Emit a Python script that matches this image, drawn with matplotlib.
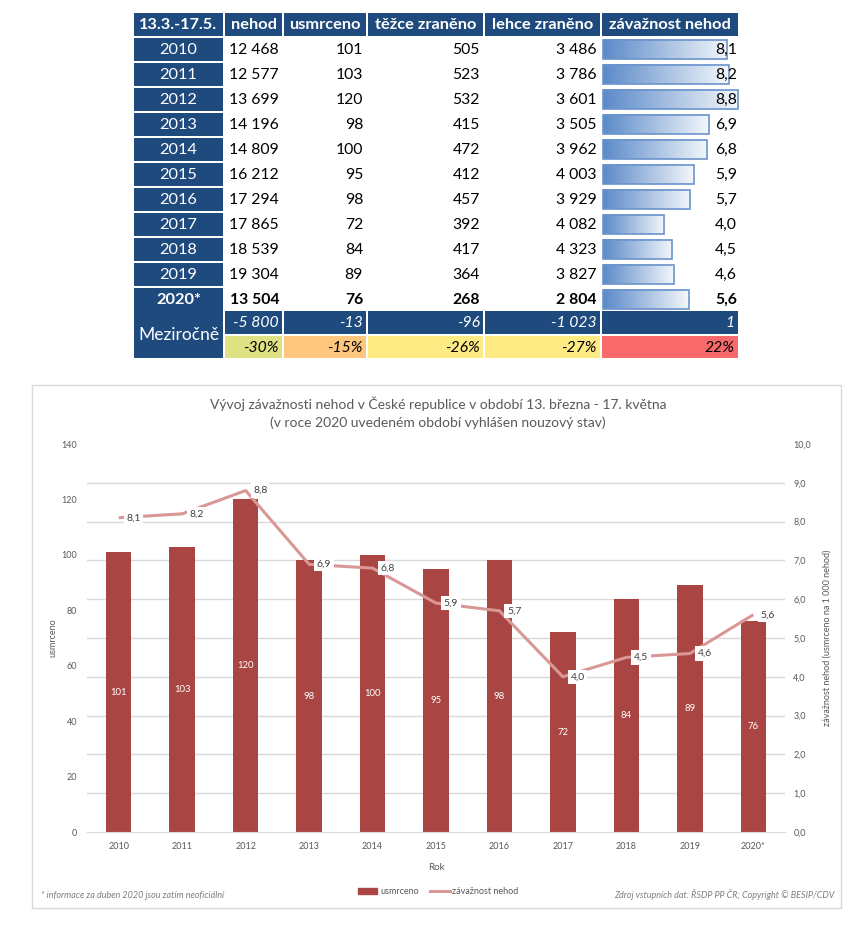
import matplotlib
matplotlib.use('Agg')
import matplotlib.pyplot as plt
import numpy as np
from matplotlib.patches import Rectangle, Patch
from matplotlib.lines import Line2D
from matplotlib.colors import LinearSegmentedColormap

plt.rcParams['font.family'] = ['Lato', 'DejaVu Sans']

# ---------------- data ----------------
years = ['2010', '2011', '2012', '2013', '2014', '2015', '2016', '2017', '2018', '2019', '2020*']
nehod = [12468, 12577, 13699, 14196, 14809, 16212, 17294, 17865, 18539, 19304, 13504]
usmrceno = [101, 103, 120, 98, 100, 95, 98, 72, 84, 89, 76]
tezce = [505, 523, 532, 415, 472, 412, 457, 392, 417, 364, 268]
lehce = [3486, 3786, 3601, 3505, 3962, 4003, 3929, 4082, 4323, 3827, 2804]
zavaznost = [8.1, 8.2, 8.8, 6.9, 6.8, 5.9, 5.7, 4.0, 4.5, 4.6, 5.6]
header = ['13.3.-17.5.', 'nehod', 'usmrceno', 'těžce zraněno', 'lehce zraněno', 'závažnost nehod']
change_label = 'Meziročně'
change_abs = ['-5 800', '-13', '-96', '-1 023', '1']
change_pct = ['-30%', '-15%', '-26%', '-27%', '22%']
pct_colors = ['#DFE283', '#FFC77D', '#FFEB84', '#FFEB84', '#F8696B']

title1 = 'Vývoj závažnosti nehod v České republice v období 13. března - 17. května'
title2 = '(v roce 2020 uvedeném období vyhlášen nouzový stav)'
foot_left = '* informace za duben 2020 jsou zatím neoficiální'
foot_right = 'Zdroj vstupních dat: ŘSDP PP ČR; Copyright © BESIP/CDV'

# ---------------- styles ----------------
NAVY = '#1F4A7D'
BAR = '#A94643'
LINE = '#D99795'
GRID = '#D9D9D9'
TXT = '#595959'

W, H = 864, 941
fig = plt.figure(figsize=(W / 100, H / 100), dpi=100)
bg = fig.add_axes([0, 0, 1, 1])
bg.set_xlim(0, W)
bg.set_ylim(H, 0)
bg.axis('off')


def fmt_int(v):
    return f"{v:,}".replace(',', ' ')


def fmt_dec(v):
    return f"{v:.1f}".replace('.', ',')


# ---------------- table ----------------
col_l = [134, 225, 284, 368, 485, 602]
col_r = [223, 282, 366, 483, 600, 738]
hdr_top, hdr_h = 13, 23
row_top0, row_pitch, row_h = 38, 25, 22.5
fs_tab = 11.3
fs_hdr = 11.8

for j, h in enumerate(header):
    bg.add_patch(Rectangle((col_l[j], hdr_top), col_r[j] - col_l[j], hdr_h, color=NAVY, lw=0))
    bg.text((col_l[j] + col_r[j]) / 2, hdr_top + hdr_h / 2 + 0.5, h, ha='center', va='center',
            color='white', fontsize=fs_hdr, fontweight='bold')

cmap = LinearSegmentedColormap.from_list('db', ['#5B8AC8', '#F4F7FB'])
grad = np.linspace(0, 1, 256).reshape(1, -1)
zmax = max(zavaznost)
bar_full = col_r[5] - col_l[5] - 1

for i, yr in enumerate(years):
    top = row_top0 + i * row_pitch
    cy = top + row_h / 2 + 0.5
    last = (i == len(years) - 1)
    fw = 'bold' if last else 'normal'
    bg.add_patch(Rectangle((col_l[0], top), col_r[0] - col_l[0], row_h, color=NAVY, lw=0))
    bg.text((col_l[0] + col_r[0]) / 2, cy, yr, ha='center', va='center', color='white',
            fontsize=fs_tab + 0.5, fontweight=fw)
    vals = [fmt_int(nehod[i]), fmt_int(usmrceno[i]), fmt_int(tezce[i]), fmt_int(lehce[i])]
    for j, s in enumerate(vals):
        bg.text(col_r[j + 1] - 3, cy, s, ha='right', va='center', color='black',
                fontsize=fs_tab, fontweight=fw)
    # data bar
    blen = zavaznost[i] / zmax * bar_full
    x0 = col_l[5] + 1
    y0, y1 = top + 1.5, top + row_h - 1.5
    bg.imshow(grad, extent=[x0, x0 + blen, y1, y0], aspect='auto', cmap=cmap, zorder=1,
              interpolation='bilinear')
    bg.add_patch(Rectangle((x0, y0), blen, y1 - y0, fill=False, ec='#6A94CC', lw=1.2, zorder=2))
    bg.text(col_r[5] - 1, cy, fmt_dec(zavaznost[i]), ha='right', va='center', color='black',
            fontsize=fs_tab, fontweight=fw, zorder=3)

# change rows
m1_top, m1_h = 311, 23
m2_top, m2_h = 336, 22
bg.add_patch(Rectangle((col_l[0], m1_top), col_r[0] - col_l[0], m2_top + m2_h - m1_top, color=NAVY, lw=0))
bg.text((col_l[0] + col_r[0]) / 2, (m1_top + m2_top + m2_h) / 2, change_label, ha='center',
        va='center', color='white', fontsize=12.5)
for j in range(5):
    bg.add_patch(Rectangle((col_l[j + 1], m1_top), col_r[j + 1] - col_l[j + 1], m1_h, color=NAVY, lw=0))
    bg.text(col_r[j + 1] - 3, m1_top + m1_h / 2 + 0.5, change_abs[j], ha='right', va='center',
            color='white', fontsize=fs_tab, style='italic')
    bg.add_patch(Rectangle((col_l[j + 1], m2_top), col_r[j + 1] - col_l[j + 1], m2_h,
                           color=pct_colors[j], lw=0))
    bg.text(col_r[j + 1] - 3, m2_top + m2_h / 2 + 0.5, change_pct[j], ha='right', va='center',
            color='black', fontsize=fs_tab, style='italic')

bg.set_xlim(0, W)
bg.set_ylim(H, 0)

# ---------------- chart frame ----------------
bg.add_patch(Rectangle((32, 385), 841 - 32, 908 - 385, fill=False, ec=GRID, lw=1))

fig.text(438 / W, 1 - 404 / H, title1, ha='center', va='center', fontsize=10, color=TXT)
fig.text(438 / W, 1 - 423 / H, title2, ha='center', va='center', fontsize=10, color=TXT)

ax = fig.add_axes([87 / W, 1 - 832 / H, (785 - 87) / W, (832 - 444) / H])
x = np.arange(len(years))
bars = ax.bar(x, usmrceno, width=0.4, color=BAR, zorder=2)
ax.set_xlim(-0.5, len(years) - 0.5)
ax.set_ylim(0, 140)
ax.set_yticks(np.arange(0, 141, 20))
ax.set_yticks(np.arange(0, 141, 14), minor=True)
ax.grid(which='minor', axis='y', color=GRID, lw=1, zorder=0)
ax.set_axisbelow(True)
ax.set_xticks(x)
ax.set_xticklabels(years)
for s in ['top', 'left', 'right']:
    ax.spines[s].set_visible(False)
ax.spines['bottom'].set_color(GRID)
ax.tick_params(axis='both', which='both', length=0, labelsize=6.5, labelcolor=TXT)
ax.tick_params(axis='y', pad=7)
ax.tick_params(axis='x', pad=7)
ax.set_ylabel('usmrceno', fontsize=6.5, color=TXT)
ax.yaxis.set_label_coords(-0.043, 0.5)
ax.set_xlabel('Rok', fontsize=7, color=TXT)
ax.xaxis.set_label_coords(0.5, -0.08)
ax.bar_label(bars, label_type='center', color='white', fontsize=6.8)

ax2 = ax.twinx()
ax2.plot(x, zavaznost, color=LINE, lw=2.2, zorder=2, solid_capstyle='butt')
ax2.set_ylim(0, 10)
ax2.set_yticks(np.arange(0, 10.01, 1))
ax2.set_yticklabels([fmt_dec(v) for v in np.arange(0, 10.01, 1)])
for s in ['top', 'left', 'right', 'bottom']:
    ax2.spines[s].set_visible(False)
ax2.tick_params(axis='y', length=0, labelsize=6.5, labelcolor=TXT, pad=6)
ax2.set_ylabel('závažnost nehod (usmrceno na 1 000 nehod)', fontsize=6.5, color=TXT)
ax2.yaxis.set_label_coords(1.054, 0.5)
for xi, v in zip(x, zavaznost):
    ax2.annotate(fmt_dec(v), (xi, v), xytext=(5.5, 0), textcoords='offset points',
                 ha='left', va='center', fontsize=7.5, color='#404040', zorder=3,
                 bbox=dict(boxstyle='square,pad=0.25', fc='white', ec='none'))

handles = [Patch(color=BAR), Line2D([0], [0], color=LINE, lw=2.2)]
fig.legend(handles, ['usmrceno', 'závažnost nehod'], loc='center',
           bbox_to_anchor=(438 / W, 1 - 892 / H), ncol=2, frameon=False, fontsize=6.5,
           labelcolor=TXT, handlelength=2.2, handleheight=0.6, columnspacing=1.2,
           handletextpad=0.3)

fig.text(41 / W, 1 - 895 / H, foot_left, ha='left', va='center', fontsize=6.5,
         color='#7F7F7F', style='italic')
fig.text(834 / W, 1 - 895 / H, foot_right, ha='right', va='center', fontsize=6.5,
         color='#7F7F7F', style='italic')

fig.savefig('out.png', dpi=100)
